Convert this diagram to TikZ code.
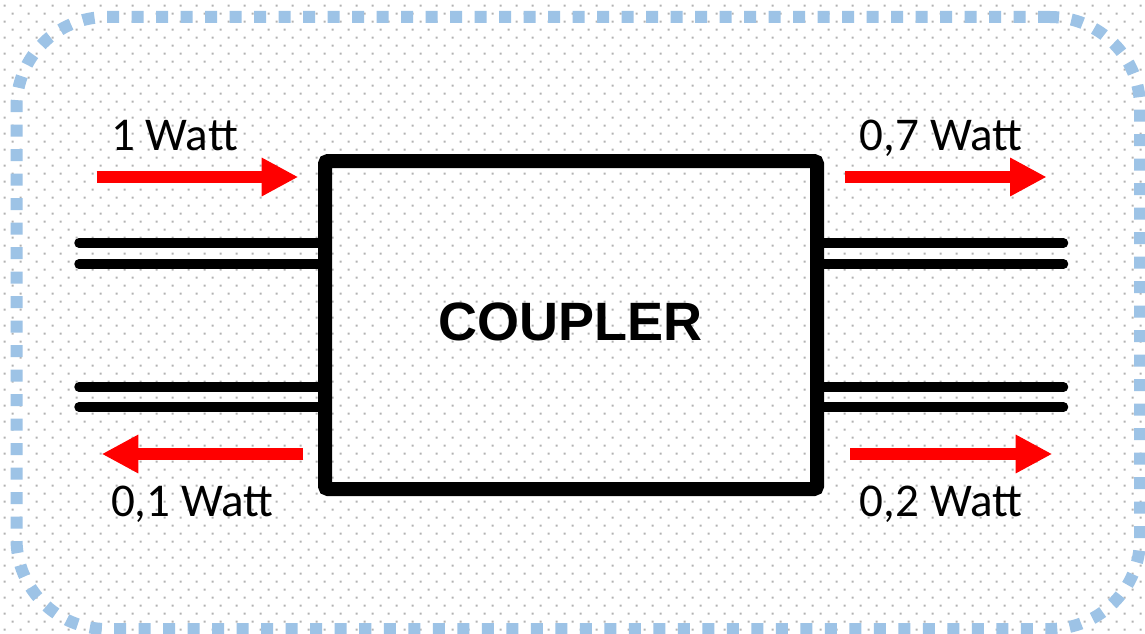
\documentclass[tikz,border=0pt]{standalone}
\usepackage{fontspec}
\setmainfont{Carlito}
\newfontfamily\headfont{Liberation Sans}
\usetikzlibrary{arrows.meta}
\definecolor{dotgrey}{HTML}{B2B2B2}
\definecolor{frameblue}{HTML}{9DC3E6}
\definecolor{flowred}{HTML}{FF0000}

\begin{document}
\begin{tikzpicture}[x=1pt,y=-1pt,
  frame/.style={draw=frameblue, line width=12pt, dash pattern=on 12pt off 12.5pt,
    rounded corners=90pt, inner sep=0pt, outer sep=0pt},
  box/.style={draw, line width=14pt, rounded corners=3pt, inner sep=0pt, outer sep=0pt,
    minimum width=492pt, minimum height=328pt},
  tline/.style={line width=9.5pt, line cap=round},
  flow/.style={draw=flowred, line width=12pt,
    -{Triangle[length=36.6pt,width=36pt]}},
  power/.style={font=\fontsize{47}{56}\selectfont, inner sep=0pt, anchor=base},
  title/.style={font=\headfont\bfseries\fontsize{54}{65}\selectfont, inner sep=0pt}
 ]
\useasboundingbox (0,0) rectangle (1145,634);
\fill[white] (0,0) rectangle (1145,634);

% dotted background grid, staggered rows
\fill[dotgrey]
  foreach \j in {0,...,39} {
    foreach \i in {0,...,71} {
      (3.7+16*\i, 4.7+16*\j) rectangle ++(2,2)
      (11.7+16*\i, 12.7+16*\j) rectangle ++(2,2)
    }
  };

% outer dashed frame
\node[frame, minimum width=1123.5pt, minimum height=612pt] (frame) at (578.25,323) {};

% coupler block
\node[box] (coupler) at (571,325) {};
\node[title] (name) at (570.4,322.3) {COUPLER};

% transmission line ends
\coordinate (la) at (79,243);
\coordinate (lb) at (79,264);
\coordinate (lc) at (79,387);
\coordinate (ld) at (79,407);
\coordinate (ra) at (1063.5,243);
\coordinate (rb) at (1063.5,264);
\coordinate (rc) at (1063.5,387);
\coordinate (rd) at (1063.5,407);
\foreach \p in {la,lb,lc,ld} \draw[tline] (\p) -- (\p -| coupler.west);
\foreach \p in {ra,rb,rc,rd} \draw[tline] (\p) -- (\p -| coupler.east);

% power flow arrows
\coordinate (inS) at (96.7,177);    \coordinate (inT) at (298.3,177);
\coordinate (thS) at (845,177);     \coordinate (thT) at (1046.7,177);
\coordinate (rfS) at (303.3,454);   \coordinate (rfT) at (101.7,454);
\coordinate (cpS) at (850,454);     \coordinate (cpT) at (1052.3,454);
\draw[flow] (inS) -- (inT);
\draw[flow] (thS) -- (thT);
\draw[flow] (rfS) -- (rfT);
\draw[flow] (cpS) -- (cpT);

% power labels
\node[power] (pin)  at (174.5,150.7) {1 Watt};
\node[power] (pth)  at (941,150.7)   {0,7 Watt};
\node[power] (prf)  at (192.2,516.7) {0,1 Watt};
\node[power] (pcp)  at (941,516.7)   {0,2 Watt};
\end{tikzpicture}
\end{document}
